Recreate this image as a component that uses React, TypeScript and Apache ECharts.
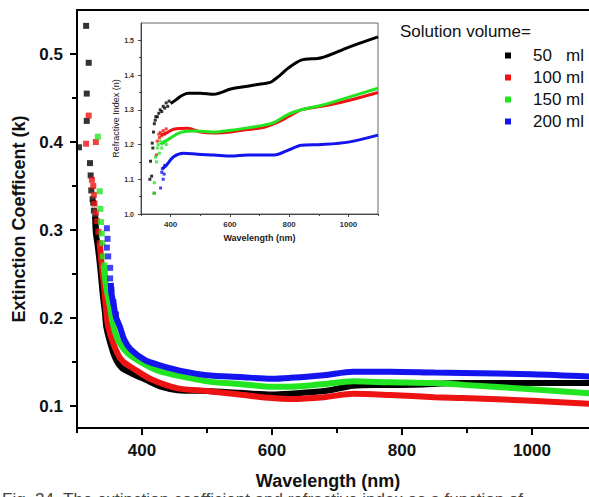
import React, { useEffect, useRef } from 'react';
import * as echarts from 'echarts';

const FONT = '"Liberation Sans", Arial, Helvetica, sans-serif';

const seriesNames = ['50\u00a0\u00a0\u00a0ml', '100 ml', '150 ml', '200 ml'];
const seriesColors = ['#000000', '#ee1313', '#22e522', '#1414ee'];

// Main chart: extinction coefficient k vs wavelength (nm)
const kSparse50 = [[303,0.394],[314,0.532],[315,0.455],[315,0.424],[318,0.49],[320,0.376],[321,0.362],[322,0.345],[324,0.335],[325,0.331],[326,0.322],[328,0.315],[329,0.305],[330,0.297]];
const kDense50 = [[328,0.315],[329,0.297],[332,0.281],[335,0.262],[337,0.247],[340,0.224],[343,0.206],[345,0.19],[351,0.172],[358,0.156],[368,0.144],[383,0.1375],[405,0.13],[429,0.122],[455,0.118],[500,0.117],[550,0.115],[600,0.113],[628,0.114],[680,0.117],[725,0.123],[760,0.124],[800,0.124],[894,0.126],[1000,0.126],[1100,0.126]];
const kSparse100 = [[314,0.398],[318,0.43],[329,0.40],[323,0.357],[325,0.35],[326,0.34],[327,0.33],[329,0.32],[331,0.31],[333,0.298],[335,0.285],[337,0.27]];
const kDense100 = [[335,0.285],[338,0.26],[341,0.24],[344,0.215],[348,0.19],[358,0.167],[369,0.152],[390,0.141],[415,0.13],[455,0.12],[500,0.117],[550,0.113],[600,0.109],[628,0.108],[680,0.11],[725,0.114],[782,0.1125],[850,0.11],[894,0.109],[1000,0.106],[1100,0.102]];
const kSparse150 = [[332,0.406],[335,0.344],[336,0.324],[337,0.309],[338,0.296],[339,0.285],[340,0.27],[342,0.26],[343,0.25]];
const kDense150 = [[341,0.26],[345,0.235],[351,0.212],[355,0.194],[363,0.175],[378,0.16],[405,0.147],[429,0.139],[466,0.133],[500,0.128],[550,0.125],[600,0.122],[628,0.122],[680,0.125],[725,0.128],[782,0.127],[850,0.126],[894,0.124],[1000,0.119],[1100,0.114]];
const kSparse200 = [[346,0.302],[347,0.29],[346,0.28],[348,0.27],[351,0.257],[351,0.245],[353,0.232],[356,0.218],[360,0.204]];
const kDense200 = [[352,0.24],[353,0.228],[356,0.217],[360,0.201],[366,0.19],[373,0.175],[383,0.164],[405,0.152],[429,0.146],[466,0.139],[500,0.135],[550,0.133],[600,0.131],[628,0.132],[680,0.135],[725,0.139],[782,0.139],[850,0.138],[894,0.1375],[1000,0.136],[1100,0.133]];

// Inset: refractive index n vs wavelength (nm)
const nSparse50 = [[330,1.10],[332,1.152],[336,1.109],[338,1.204],[340,1.19],[342,1.236],[345,1.26],[348,1.27],[350,1.28],[355,1.28],[360,1.29],[365,1.30],[370,1.295],[375,1.31],[380,1.305],[385,1.32],[390,1.31],[395,1.325]];
const nDense50 = [[400,1.318],[420,1.33],[434,1.339],[458,1.348],[500,1.348],[546,1.345],[603,1.36],[660,1.368],[716,1.376],[739,1.38],[770,1.40],[797,1.42],[841,1.443],[909,1.45],[1000,1.48],[1100,1.51]];
const nSparse100 = [[345,1.06],[352,1.17],[355,1.21],[360,1.23],[362,1.22],[365,1.235],[370,1.225],[375,1.24],[380,1.23],[385,1.245]];
const nDense100 = [[366,1.227],[390,1.235],[410,1.244],[457,1.247],[502,1.236],[546,1.233],[603,1.236],[660,1.243],[716,1.25],[750,1.26],[797,1.28],[841,1.30],[909,1.31],[1000,1.327],[1100,1.35]];
const nSparse150 = [[343,1.06],[345,1.09],[349,1.164],[352,1.15],[355,1.19],[358,1.2],[362,1.175],[365,1.21],[370,1.19],[375,1.205],[380,1.21],[385,1.2]];
const nDense150 = [[366,1.20],[389,1.213],[434,1.235],[491,1.239],[546,1.236],[603,1.241],[660,1.248],[716,1.256],[750,1.264],[797,1.287],[841,1.30],[909,1.313],[1000,1.336],[1100,1.362]];
const nSparse200 = [[366,1.075],[370,1.12],[375,1.10],[372,1.13],[378,1.115],[380,1.14]];
const nDense200 = [[372,1.13],[385,1.14],[410,1.165],[444,1.175],[491,1.172],[546,1.17],[603,1.167],[660,1.17],[716,1.17],[750,1.17],[797,1.184],[841,1.198],[909,1.20],[1000,1.207],[1100,1.227]];

const mainXLabels = [400, 600, 800, 1000];
const mainXMinor = [300, 500, 700, 900, 1100];
const mainYLabels = [0.1, 0.2, 0.3, 0.4, 0.5];
const mainYMinor = [0.15, 0.25, 0.35, 0.45];
const insetXLabels = [400, 600, 800, 1000];
const insetXMinor = [300, 500, 700, 900, 1100];
const insetYLabels = [1.0, 1.1, 1.2, 1.3, 1.4, 1.5];
const insetYMinor = [1.05, 1.15, 1.25, 1.35, 1.45];

const legendTitle = 'Solution volume=';
const caption = 'Fig. 24. The extinction coefficient and refractive index as a function of';

const kSparse = [kSparse50, kSparse100, kSparse150, kSparse200];
const kDense = [kDense50, kDense100, kDense150, kDense200];
const nSparse = [nSparse50, nSparse100, nSparse150, nSparse200];
const nDense = [nDense50, nDense100, nDense150, nDense200];

function tickAxis(gridIndex: number, min: number, max: number, position: string, values: number[], length: number, width: number, color: string, z: number) {
  return {
    gridIndex, type: 'value', min, max, position, offset: 0,
    axisLine: { show: false },
    axisTick: { show: true, customValues: values.slice(), length, lineStyle: { width, color } },
    axisLabel: { show: false }, splitLine: { show: false }, z,
  };
}

export default function App() {
  const ref = useRef<HTMLDivElement>(null);
  useEffect(() => {
    if (!ref.current) return;
    const chart = echarts.init(ref.current, undefined, { renderer: 'svg' });
    const series: any[] = [];
    for (let i = 0; i < 4; i++) {
      series.push({
        name: seriesNames[i], type: 'line', xAxisIndex: 0, yAxisIndex: 0,
        data: kDense[i], symbol: 'none', smooth: 0.3, color: seriesColors[i],
        lineStyle: { width: 6, color: seriesColors[i] }, z: 2 + i,
      });
      series.push({
        name: seriesNames[i], type: 'scatter', xAxisIndex: 0, yAxisIndex: 0,
        data: kSparse[i], symbol: 'rect', symbolSize: 6, color: seriesColors[i],
        itemStyle: { color: seriesColors[i] }, z: 2 + i,
      });
      series.push({
        name: seriesNames[i], type: 'line', xAxisIndex: 2, yAxisIndex: 2,
        data: nDense[i], symbol: 'none', smooth: 0.3, color: seriesColors[i],
        lineStyle: { width: 3, color: seriesColors[i] }, z: 12 + i,
      });
      series.push({
        name: seriesNames[i], type: 'scatter', xAxisIndex: 2, yAxisIndex: 2,
        data: nSparse[i], symbol: 'rect', symbolSize: 3, color: seriesColors[i],
        itemStyle: { color: seriesColors[i] }, z: 12 + i,
      });
    }
    const boldLabel = { fontFamily: FONT, fontWeight: 'bold', fontSize: 17, color: '#111' };
    const smallLabel = { fontFamily: FONT, fontWeight: 'bold', fontSize: 8, color: '#333' };
    const mainRect = { left: 77, top: 10, width: 520, height: 418 };
    const insetRect = { left: 141, top: 23, width: 237, height: 191 };
    chart.setOption({
      animation: false,
      backgroundColor: '#ffffff',
      title: {
        text: legendTitle, left: 395, top: 18,
        textStyle: { fontFamily: FONT, fontWeight: 'normal', fontSize: 17, color: '#111' },
      },
      legend: {
        orient: 'vertical', left: 500, top: 42, itemWidth: 6, itemHeight: 6, itemGap: 5,
        data: seriesNames.map((n) => ({ name: n, icon: 'rect' })),
        textStyle: { fontFamily: FONT, fontSize: 17, color: '#111', padding: [0, 0, 0, 17] },
      },
      grid: [
        { ...mainRect, show: true, borderColor: '#000', borderWidth: 2, backgroundColor: 'transparent' },
        { ...insetRect, show: true, borderColor: '#666', borderWidth: 1, backgroundColor: '#fff', z: 10 },
        { ...mainRect, show: false },
        { ...insetRect, show: false, z: 10 },
      ],
      xAxis: [
        {
          gridIndex: 0, type: 'value', min: 300, max: 1100, position: 'bottom',
          name: 'Wavelength (nm)', nameLocation: 'middle', nameGap: 44,
          nameTextStyle: { fontFamily: FONT, fontWeight: 'bold', fontSize: 18, color: '#111', padding: [0, 18, 0, 0] },
          axisLine: { lineStyle: { color: '#000', width: 2 } },
          axisTick: { show: false },
          axisLabel: { customValues: mainXLabels.slice(), margin: 14, formatter: (v: number) => String(v), ...boldLabel },
          splitLine: { show: false },
        },
        tickAxis(0, 300, 1100, 'bottom', mainXMinor, 5, 2, '#000', 3),
        {
          gridIndex: 1, type: 'value', min: 300, max: 1100, position: 'bottom',
          name: 'Wavelength (nm)', nameLocation: 'middle', nameGap: 19,
          nameTextStyle: { fontFamily: FONT, fontWeight: 'bold', fontSize: 9, color: '#222' },
          axisLine: { lineStyle: { color: '#444', width: 1 } },
          axisTick: { show: false },
          axisLabel: { customValues: insetXLabels.slice(), margin: 6, formatter: (v: number) => String(v), ...smallLabel },
          splitLine: { show: false }, z: 10,
        },
        tickAxis(1, 300, 1100, 'bottom', insetXMinor, 2, 1, '#444', 11),
        tickAxis(2, 300, 1100, 'bottom', mainXLabels, 7, 2, '#000', 3),
        tickAxis(3, 300, 1100, 'bottom', insetXLabels, 3, 1, '#444', 11),
      ],
      yAxis: [
        {
          gridIndex: 0, type: 'value', min: 0.075, max: 0.55, position: 'left',
          name: 'Extinction Coefficent (k)', nameLocation: 'middle', nameGap: 48,
          nameTextStyle: { fontFamily: FONT, fontWeight: 'bold', fontSize: 18, color: '#111' },
          axisLine: { show: true, lineStyle: { color: '#000', width: 2 } },
          axisTick: { show: false },
          axisLabel: { customValues: mainYLabels.slice(), margin: 14, formatter: (v: number) => v.toFixed(1), ...boldLabel },
          splitLine: { show: false },
        },
        tickAxis(0, 0.075, 0.55, 'left', mainYMinor, 5, 2, '#000', 3),
        {
          gridIndex: 1, type: 'value', min: 1.0, max: 1.55, position: 'left',
          name: 'Refractive Index (n)', nameLocation: 'middle', nameGap: 21,
          nameTextStyle: { fontFamily: FONT, fontWeight: 'normal', fontSize: 9, color: '#222' },
          axisLine: { show: true, lineStyle: { color: '#444', width: 1 } },
          axisTick: { show: false },
          axisLabel: { customValues: insetYLabels.slice(), margin: 7, formatter: (v: number) => v.toFixed(1), ...smallLabel, fontSize: 7 },
          splitLine: { show: false }, z: 10,
        },
        tickAxis(1, 1.0, 1.55, 'left', insetYMinor, 2, 1, '#444', 11),
        tickAxis(2, 0.075, 0.55, 'left', mainYLabels, 7, 2, '#000', 3),
        tickAxis(3, 1.0, 1.55, 'left', insetYLabels, 3, 1, '#444', 11),
      ],
      graphic: [
        {
          type: 'text', left: 2, top: 491,
          style: { text: caption, font: '17px ' + FONT, fill: '#444' },
        },
      ],
      series,
    });
    return () => chart.dispose();
  }, []);
  return (
    <div style={{ position: 'fixed', left: 0, top: 0, width: 589, height: 497, overflow: 'hidden', background: '#fff' }}>
      <div ref={ref} style={{ width: 620, height: 520 }} />
    </div>
  );
}
